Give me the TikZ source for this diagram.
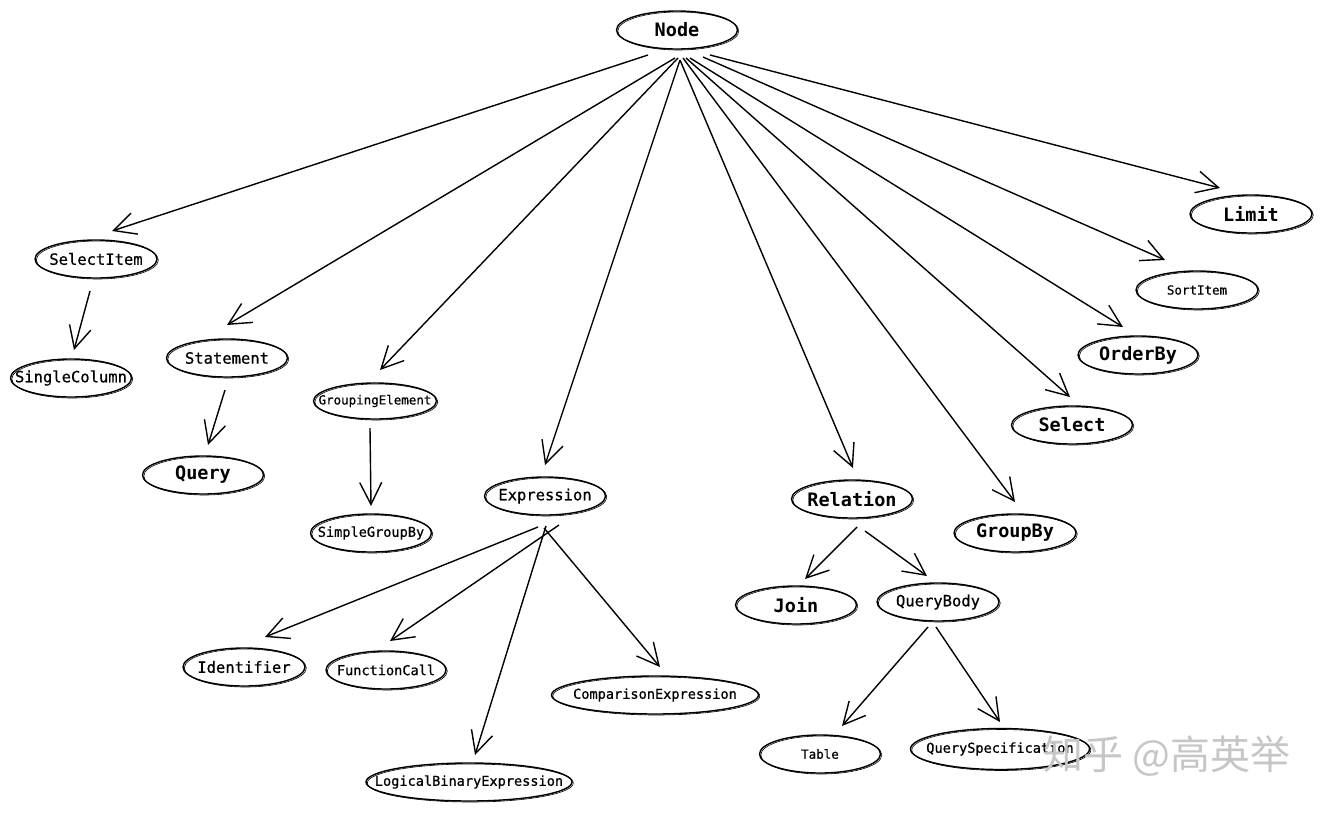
\documentclass[tikz,border=0pt]{standalone}
\usepackage{fontspec}
\newfontfamily\mono[FakeBold=0.7]{DejaVu Sans Mono}
\newfontfamily\monob{DejaVu Sans Mono Bold}
\newfontfamily\cjk{Noto Sans CJK SC}
\usetikzlibrary{shapes.geometric,arrows.meta,calc}
\tikzset{
  ell/.style={ellipse, draw, line width=1.4pt, minimum width=121pt, minimum height=38pt, inner sep=0pt,
    preaction={draw, line width=0.6pt, transform canvas={shift={(1.3pt,-1pt)}}}},
  bigt/.style={label={center:{\monob\fontsize{18.5}{20}\selectfont #1}}},
  midt/.style={label={center:{\mono\fontsize{15.5}{17}\selectfont #1}}},
  smt/.style={label={center:{\mono\fontsize{13.6}{15}\selectfont #1}}},
  xst/.style={label={center:{\mono\fontsize{12.5}{14}\selectfont #1}}},
  arr/.style={line width=1.4pt, -{Straight Barb[length=22pt,width=22pt,line width=1.4pt]}}
}
\begin{document}
\begin{tikzpicture}[x=1pt,y=-1pt]
\useasboundingbox (0,0) rectangle (1322,812);
% nodes
\node[ell, bigt=Node] (Node) at (677,30) {};
\node[ell, midt=SelectItem, minimum width=122pt] (SelectItem) at (96,259) {};
\node[ell, midt=SingleColumn] (SingleColumn) at (71,378) {};
\node[ell, midt=Statement] (Statement) at (227,358) {};
\node[ell, bigt=Query] (Query) at (203,475) {};
\node[ell, xst=GroupingElement, minimum width=123pt, minimum height=36pt] (GroupingElement) at (375,401) {};
\node[ell, smt=SimpleGroupBy] (SimpleGroupBy) at (371,533) {};
\node[ell, midt=Expression] (Expression) at (545,496) {};
\node[ell, midt=Identifier, minimum width=122pt] (Identifier) at (244,667) {};
\node[ell, smt=FunctionCall, minimum width=120pt] (FunctionCall) at (386,670) {};
\node[ell, smt=ComparisonExpression, minimum width=207pt] (Comparison) at (655,695) {};
\node[ell, smt=LogicalBinaryExpression, minimum width=206pt] (Logical) at (469,782) {};
\node[ell, bigt=Relation] (Relation) at (852,499) {};
\node[ell, bigt=Join] (Join) at (796,605) {};
\node[ell, midt=QueryBody, minimum width=122pt] (QueryBody) at (938,602) {};
\node[ell, xst=Table] (Table) at (820,754) {};
\node[ell, smt=QuerySpecification, minimum width=179pt, minimum height=41pt] (QuerySpec) at (1000,749) {};
\node[ell, bigt=GroupBy, minimum width=122pt] (GroupBy) at (1015,533) {};
\node[ell, bigt=Select] (Select) at (1072,425) {};
\node[ell, bigt=OrderBy, minimum width=120pt] (OrderBy) at (1138,355) {};
\node[ell, xst=SortItem, minimum width=122pt] (SortItem) at (1197,290) {};
\node[ell, bigt=Limit, minimum width=122pt] (Limit) at (1251,214) {};
% connectors from Node
\draw[arr] ($(Node)+(-29,25)$) -- ($(SelectItem)+(16,-28)$);
\draw[arr] ($(Node)+(-2,28)$) -- ($(Statement)+(0,-33)$);
\draw[arr] ($(Node)+(1,28)$) -- ($(GroupingElement)+(5,-31)$);
\draw[arr] ($(Node)+(3,30)$) -- ($(Expression)+(0,-31)$);
\draw[arr] ($(Node)+(3,30)$) -- ($(Relation)+(1,-31)$);
\draw[arr] ($(Node)+(6,28)$) -- ($(GroupBy)+(0,-31)$);
\draw[arr] ($(Node)+(9,28)$) -- ($(Select)+(-2,-28)$);
\draw[arr] ($(Node)+(13,28)$) -- ($(OrderBy)+(-15,-28)$);
\draw[arr] ($(Node)+(26,27)$) -- ($(SortItem)+(-32,-30)$);
\draw[arr] ($(Node)+(33,25)$) -- ($(Limit)+(-31,-26)$);
% other connectors
\draw[arr] ($(SelectItem)+(-6,32)$) -- ($(SingleColumn)+(3,-28)$);
\draw[arr] ($(Statement)+(-2,32)$) -- ($(Query)+(5,-30)$);
\draw[arr] ($(GroupingElement)+(-5,27)$) -- ($(SimpleGroupBy)+(0,-27)$);
\draw[arr] ($(Expression)+(-7,31)$) -- ($(Identifier)+(21,-30)$);
\draw[arr] ($(Expression)+(14,29)$) -- ($(FunctionCall)+(4,-29)$);
\draw[arr] ($(Expression)+(1,30)$) -- ($(Logical)+(6,-27)$);
\draw[arr] ($(Expression)+(-1,32)$) -- ($(Comparison)+(5,-28)$);
\draw[arr] ($(Relation)+(5,28)$) -- ($(Join)+(9,-26)$);
\draw[arr] ($(Relation)+(13,32)$) -- ($(QueryBody)+(-11,-26)$);
\draw[arr] ($(QueryBody)+(-10,25)$) -- ($(Table)+(22,-28)$);
\draw[arr] ($(QueryBody)+(-2,25)$) -- ($(QuerySpec)+(0,-27)$);
% watermark
\node[text=gray!45, inner sep=0pt, font=\cjk\fontsize{40}{42}\selectfont] (wm) at (1167,756) {知乎 @高英举};
\end{tikzpicture}
\end{document}
